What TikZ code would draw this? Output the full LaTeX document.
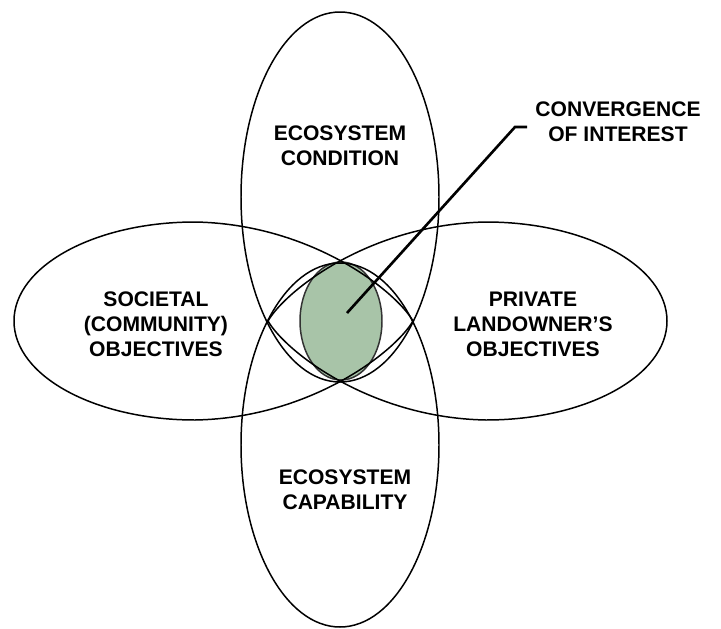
\documentclass[tikz,border=0pt]{standalone}
\usepackage{fontspec}
\setmainfont{Liberation Sans}
\usetikzlibrary{positioning}
\definecolor{sage}{RGB}{168,196,168}

\begin{document}
\begin{tikzpicture}[x=0.02cm,y=-0.02cm,line width=0.85pt,
  lbl/.style={align=center,font=\fontsize{12}{14.2}\selectfont\bfseries}]
  \useasboundingbox (0,0) rectangle (721,629);
  \fill[white] (0,0) rectangle (721,629);

  % area where all four meet
  \filldraw[fill=sage,draw=black!80] (341,321) ellipse [x radius=41, y radius=59];

  \draw (340,197) ellipse [x radius=99, y radius=185];
  \draw (340,445) ellipse [x radius=99, y radius=182];
  % left and right ones are pointed towards the middle
  \draw (413,321) .. controls (395,290) and (310,224) .. (195,222)
        .. controls (95,222) and (14,266) .. (14,321)
        .. controls (14,376) and (95,420) .. (195,420)
        .. controls (310,418) and (395,352) .. (413,321) -- cycle;
  \draw (268,321) .. controls (286,290) and (371,224) .. (486,222)
        .. controls (586,222) and (667,266) .. (667,321)
        .. controls (667,376) and (586,420) .. (486,420)
        .. controls (371,418) and (286,352) .. (268,321) -- cycle;

  \node[lbl] (cond) at (340,146) {ECOSYSTEM\\CONDITION};
  \node[lbl] (soc) at (156,324) {SOCIETAL\\(COMMUNITY)\\OBJECTIVES};
  \node[lbl] (priv) at (533,324) {PRIVATE\\LANDOWNER’S\\OBJECTIVES};
  \node[lbl] (capab) at (345,490) {ECOSYSTEM\\CAPABILITY};
  \node[lbl] (conv) at (618,122) {CONVERGENCE\\OF INTEREST};

  % pointer to the shared area
  \coordinate (core) at (347,313);
  \coordinate (bend) at (515,127);
  \coordinate (tip) at (527,127);
  \draw[line width=1.5pt] (core) -- (bend) -- (tip);
\end{tikzpicture}
\end{document}
